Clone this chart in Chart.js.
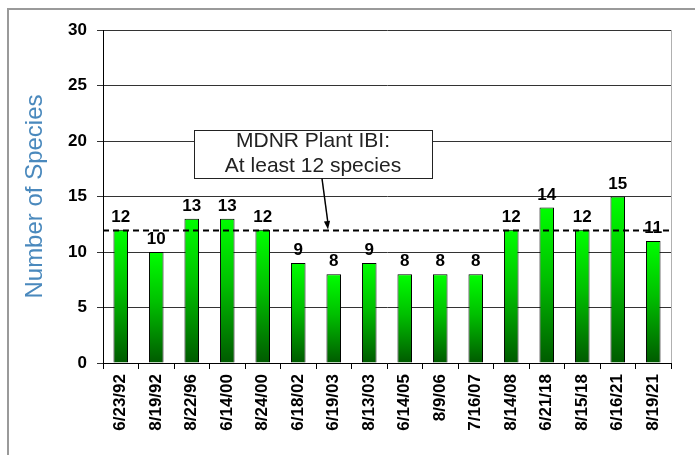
<!DOCTYPE html>
<html>
<head>
<meta charset="utf-8">
<script src="https://cdn.jsdelivr.net/npm/chart.js@4.4.1/dist/chart.umd.min.js"></script>
<style>
  html, body { margin:0; padding:0; background:#fff; }
  #wrap { width:695px; height:455px; position:relative; }
</style>
</head>
<body>
<div id="wrap"><canvas id="speciesChart"></canvas></div>
<script>
const sampleDates = ['6/23/92','8/19/92','8/22/96','6/14/00','8/24/00','6/18/02','6/19/03','8/13/03',
                     '6/14/05','8/9/06','7/16/07','8/14/08','6/21/18','8/15/18','6/16/21','8/19/21'];
const speciesCount = [12, 10, 13, 13, 12, 9, 8, 9, 8, 8, 8, 12, 14, 12, 15, 11];
const yTicks = [0, 5, 10, 15, 20, 25, 30];
const ibiTarget = 12;
const noteLines = ['MDNR Plant IBI:', 'At least 12 species'];

const FONT = "'Liberation Sans', Arial, sans-serif";

// bright green at bar top fading to dark green at base, one gradient per bar
function barGradient(ctx) {
    const chart = ctx.chart;
    if (!chart.chartArea || ctx.raw == null) return '#00cc00';
    const y = chart.scales.y;
    const top = y.getPixelForValue(ctx.raw), bot = y.getPixelForValue(0);
    const g = chart.ctx.createLinearGradient(0, top, 0, bot);
    g.addColorStop(0, '#00ff00');
    g.addColorStop(0.45, '#00c000');
    g.addColorStop(1, '#005a00');
    return g;
}

const extras = {
    id: 'extras',
    beforeDraw(chart) {
        const c = chart.ctx;
        c.save();
        c.strokeStyle = '#9a9a9a'; c.lineWidth = 2;
        c.strokeRect(8, 9, 720, 480);
        c.restore();
    },
    afterDatasetsDraw(chart) {
        const c = chart.ctx, a = chart.chartArea, y = chart.scales.y;
        const meta = chart.getDatasetMeta(0);
        c.save();
        // right edge of plot
        c.strokeStyle = '#b0b0b0'; c.lineWidth = 1;
        c.beginPath(); c.moveTo(a.right + 0.5, a.top); c.lineTo(a.right + 0.5, a.bottom); c.stroke();

        // value labels
        c.fillStyle = '#000'; c.font = 'bold 17px ' + FONT;
        c.textAlign = 'center'; c.textBaseline = 'bottom';
        meta.data.forEach((bar, i) => c.fillText(String(speciesCount[i]), bar.x, bar.y - 4));

        // target line
        const ty = Math.round(y.getPixelForValue(ibiTarget)) + 0.5;
        c.strokeStyle = '#000'; c.lineWidth = 2; c.setLineDash([6, 4]);
        c.beginPath(); c.moveTo(a.left, ty); c.lineTo(a.right, ty); c.stroke();
        c.setLineDash([]);

        // note box
        const bx = a.left + 91, bw = 238;
        const by = Math.round(y.getPixelForValue(21)) + 0.5, bh = 48;
        c.fillStyle = '#fff'; c.fillRect(bx, by, bw, bh);
        c.strokeStyle = '#222'; c.lineWidth = 1; c.strokeRect(bx + 0.5, by, bw, bh);
        c.fillStyle = '#222'; c.font = '21px ' + FONT; c.textBaseline = 'middle';
        c.fillText(noteLines[0], bx + bw / 2, by + 11);
        c.fillText(noteLines[1], bx + bw / 2, by + 36);

        // arrow down to target line
        const x0 = bx + 128, y0 = by + bh, x1 = bx + 134, y1 = ty - 1;
        c.strokeStyle = '#000'; c.lineWidth = 1.5;
        c.beginPath(); c.moveTo(x0, y0); c.lineTo(x1, y1 - 6); c.stroke();
        const ang = Math.atan2(y1 - y0, x1 - x0);
        c.fillStyle = '#000';
        c.beginPath();
        c.moveTo(x1, y1);
        c.lineTo(x1 - 9 * Math.cos(ang - 0.35), y1 - 9 * Math.sin(ang - 0.35));
        c.lineTo(x1 - 9 * Math.cos(ang + 0.35), y1 - 9 * Math.sin(ang + 0.35));
        c.closePath(); c.fill();
        c.restore();
    }
};

new Chart(document.getElementById('speciesChart').getContext('2d'), {
    type: 'bar',
    data: {
        labels: sampleDates,
        datasets: [{ data: speciesCount, backgroundColor: barGradient,
            borderColor: '#000', borderWidth: 1, barPercentage: 0.41, categoryPercentage: 1 }]
    },
    options: {
        responsive: true, maintainAspectRatio: false, animation: false,
        layout: { padding: { left: 8, top: 30, right: 24, bottom: 0 } },
        plugins: { legend: { display: false }, tooltip: { enabled: false } },
        scales: {
            x: {
                afterFit: s => { s.height = 92; },
                border: { color: '#000', width: 1 },
                grid: { drawOnChartArea: false, drawTicks: true, tickLength: 6, color: '#000', offset: true },
                ticks: { color: '#000', font: { family: FONT, size: 17, weight: 'bold' },
                         minRotation: 90, maxRotation: 90, padding: 5, autoSkip: false }
            },
            y: {
                min: 0, max: 30,
                afterFit: s => { s.width = 95; },
                afterBuildTicks: s => { s.ticks = yTicks.map(v => ({ value: v })); },
                border: { color: '#000', width: 1 },
                grid: { color: '#333', tickLength: 6, drawTicks: true },
                ticks: { color: '#000', font: { family: FONT, size: 17, weight: 'bold' }, padding: 10 },
                title: { display: true, text: 'Number of Species', color: '#4a89bd',
                         font: { family: FONT, size: 24 }, padding: { top: 13, bottom: 0 } }
            }
        }
    },
    plugins: [extras]
});
</script>
</body>
</html>
